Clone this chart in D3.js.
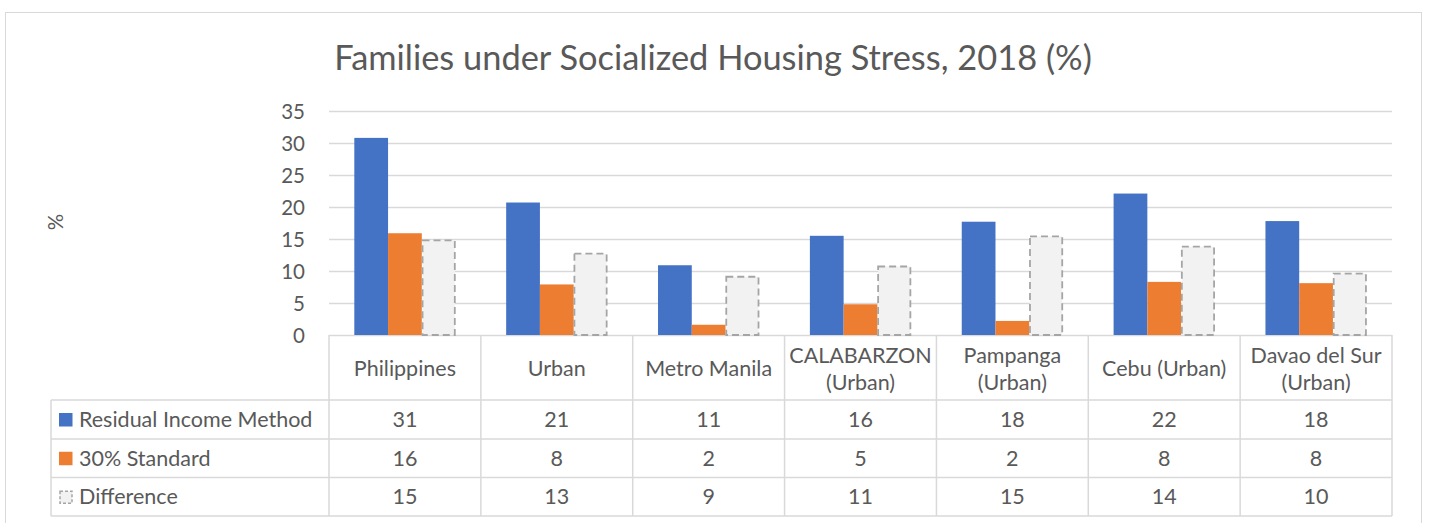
<!DOCTYPE html>
<html><head><meta charset="utf-8">
<script src="https://cdn.jsdelivr.net/npm/d3@7/dist/d3.min.js"></script>
<style>body{margin:0;background:#fff}svg{display:block}text{font-family:Lato,"Open Sans",sans-serif;fill:#595959}</style>
</head><body><svg id="c" width="1429" height="523"></svg>
<script>
const categories = ["Philippines","Urban","Metro Manila","CALABARZON (Urban)","Pampanga (Urban)","Cebu (Urban)","Davao del Sur (Urban)"];
const categoryLines = [["Philippines"],["Urban"],["Metro Manila"],["CALABARZON","(Urban)"],["Pampanga","(Urban)"],["Cebu (Urban)"],["Davao del Sur","(Urban)"]];
const seriesNames = ["Residual Income Method","30% Standard","Difference"];
const residual = [30.8,20.7,10.9,15.5,17.7,22.1,17.8];
const standard30 = [15.9,7.9,1.6,4.8,2.2,8.3,8.1];
const difference = [14.8,12.7,9.1,10.7,15.4,13.8,9.6];
const residualLabels = [31,21,11,16,18,22,18];
const standardLabels = [16,8,2,5,2,8,8];
const differenceLabels = [15,13,9,11,15,14,10];
const yTicks = [0,5,10,15,20,25,30,35];
const title = "Families under Socialized Housing Stress, 2018 (%)";

const seriesVals = [residual, standard30, difference];
const seriesLabels = [residualLabels, standardLabels, differenceLabels];
const fills = ["#4472C4","#ED7D31","#F2F2F2"];

const svg = d3.select("#c");
const grid = "#D9D9D9";
const L = 329, R = 1392, Y0 = 335, YT = 111, TL = 51;
const FS = 21.5;

svg.append("rect").attr("x",5.5).attr("y",12.5).attr("width",1416).attr("height",530)
  .attr("fill","none").attr("stroke",grid);

// title fitted to width
const t = svg.append("text").attr("x",713).attr("y",70).attr("text-anchor","middle").attr("font-size",30).text(title);
const tw = t.node().getComputedTextLength();
t.attr("font-size", 30*758/tw);

const y = d3.scaleLinear().domain([0,35]).range([Y0,YT]);
const x0 = d3.scaleBand().domain(categories).range([L,R]).padding(0);
const x1 = d3.scaleBand().domain(seriesNames).range([0,x0.bandwidth()]).paddingInner(0).paddingOuter(0.75);

// grid
svg.append("g").selectAll("line").data(yTicks).join("line")
  .attr("x1",L).attr("x2",R).attr("y1",d=>y(d)+0.5).attr("y2",d=>y(d)+0.5)
  .attr("stroke",grid).attr("stroke-width",1.5);

// y axis labels
const ya = svg.append("g").attr("transform",`translate(${L-24},0)`)
  .call(d3.axisLeft(y).tickValues(yTicks).tickSize(0).tickPadding(0));
ya.select(".domain").remove();
ya.selectAll("text").attr("font-size",20.5).attr("fill","#595959").attr("dy","0.35em")
  .style("font-family","Lato,'Open Sans',sans-serif");

svg.append("text").attr("transform","translate(63,222) rotate(-90)").attr("text-anchor","middle")
  .attr("font-size",20.5).text("%");

// bars
seriesNames.forEach((s,si)=>{
  const g = svg.append("g");
  g.selectAll("rect").data(categories).join("rect")
    .attr("x",(c)=>x0(c)+x1(s)+(si===2?0.75:0))
    .attr("width",x1.bandwidth()-(si===2?1.5:0))
    .attr("y",(c,i)=>y(seriesVals[si][i]))
    .attr("height",(c,i)=>Y0-y(seriesVals[si][i]))
    .attr("fill",fills[si])
    .attr("stroke",si===2?"#A5A5A5":"none")
    .attr("stroke-width",si===2?1.8:0)
    .attr("stroke-dasharray",si===2?"7,4":null);
});

// data table
const rows = [400, 439, 477.5, 516];
const tg = svg.append("g").attr("stroke",grid).attr("stroke-width",1.5);
const cols = [L].concat(categories.map(c=>x0(c)+x0.bandwidth()));
cols.forEach(cx=>tg.append("line").attr("x1",cx).attr("x2",cx).attr("y1",Y0).attr("y2",rows[3]));
tg.append("line").attr("x1",TL).attr("x2",TL).attr("y1",rows[0]).attr("y2",rows[3]);
rows.forEach(ry=>tg.append("line").attr("x1",TL).attr("x2",R).attr("y1",ry).attr("y2",ry));

// category labels
categories.forEach((c,i)=>{
  const lines = categoryLines[i];
  const cx = x0(c)+x0.bandwidth()/2;
  lines.forEach((ln,j)=>{
    const cy = lines.length===1 ? 368 : (355 + j*27);
    svg.append("text").attr("x",cx).attr("y",cy).attr("dy","0.35em").attr("text-anchor","middle")
      .attr("font-size",FS).text(ln);
  });
});

// rows
seriesNames.forEach((s,si)=>{
  const cy = (rows[si]+rows[si+1])/2;
  const key = svg.append("rect").attr("x",59).attr("y",cy-6.5).attr("width",13.5).attr("height",13.5)
    .attr("fill",fills[si]);
  if(si===2) key.attr("stroke","#A5A5A5").attr("stroke-width",1.5).attr("stroke-dasharray","3,2").attr("x",60).attr("y",cy-5.5).attr("width",12).attr("height",12);
  svg.append("text").attr("x",79).attr("y",cy).attr("dy","0.35em").attr("font-size",FS).text(s);
  categories.forEach((c,i)=>{
    svg.append("text").attr("x",x0(c)+x0.bandwidth()/2).attr("y",cy).attr("dy","0.35em")
      .attr("text-anchor","middle").attr("font-size",FS).text(seriesLabels[si][i]);
  });
});
</script></body></html>
